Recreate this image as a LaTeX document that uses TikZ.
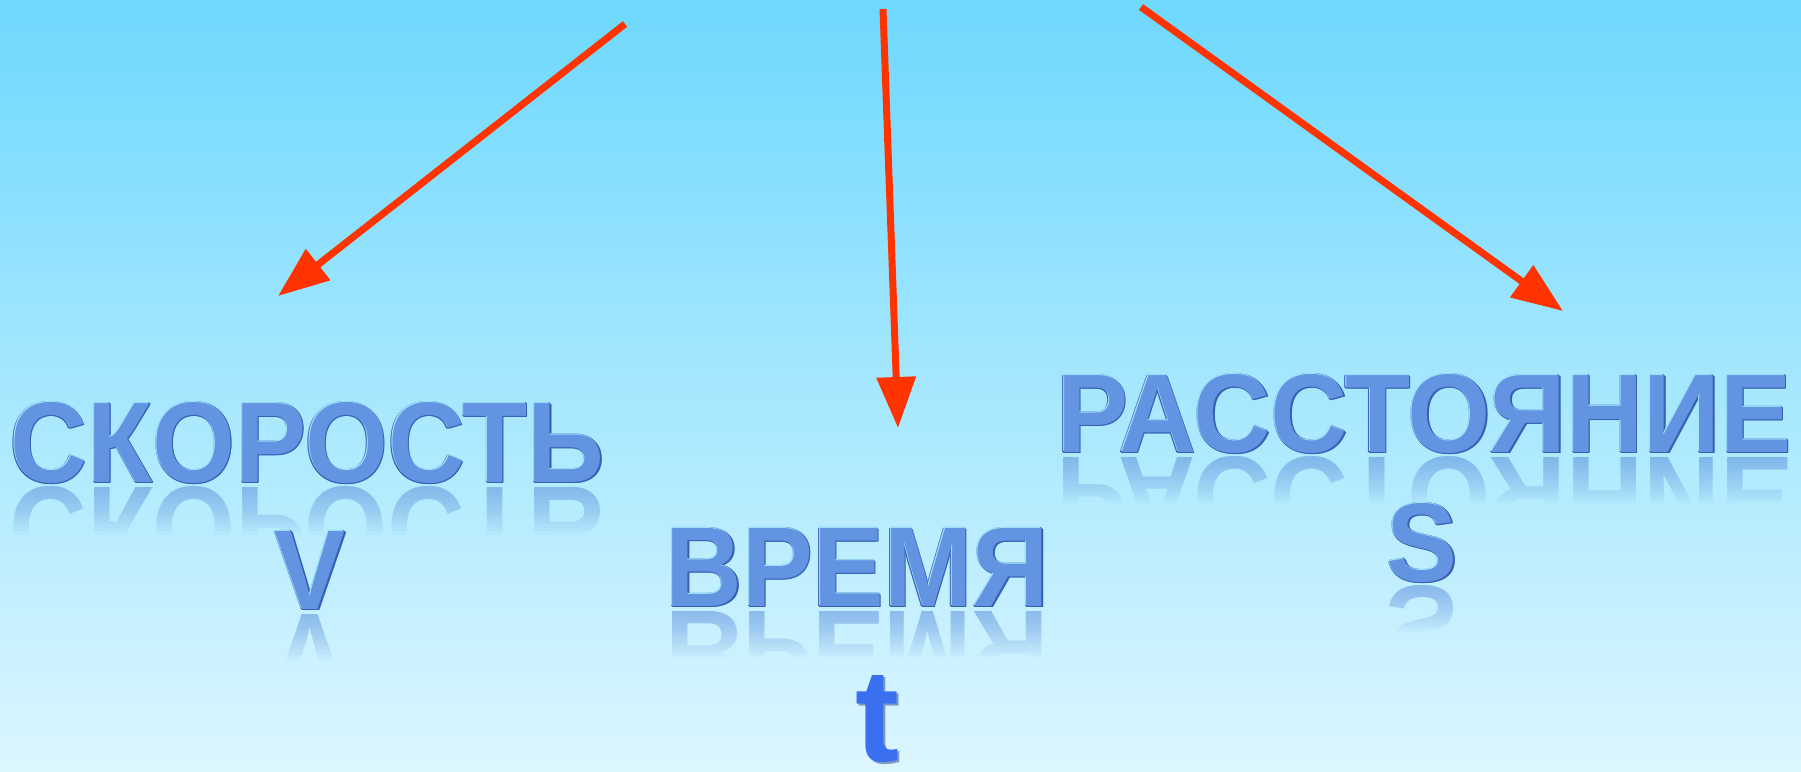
\documentclass[tikz,border=0pt]{standalone}
\usepackage{fontspec}
\setmainfont{Liberation Sans}
\usetikzlibrary{arrows.meta}
\definecolor{bgtop}{RGB}{110,216,253}
\definecolor{bgbot}{RGB}{220,246,255}
\definecolor{arr}{RGB}{255,51,0}
\definecolor{wfill}{RGB}{98,148,226}
\definecolor{wdark}{RGB}{55,95,180}
\definecolor{wlight}{RGB}{160,228,252}
\definecolor{tfill}{RGB}{58,112,240}
\definecolor{tshadow}{RGB}{70,95,150}
\tikzset{
  redarrow/.style={draw=arr, line width=7pt, -{Triangle[length=51pt,width=38pt]}},
  word/.style={inner sep=0pt, anchor=base, font=\bfseries},
}
\newcommand\wordart[6]{% name, x, baseline y, w, h, text
  \foreach \dx/\dy [count=\k] in {1/0,-1/0,0/1,0/-1,1.8/1.8} {
    \node[word, text=wdark] (#1d\k) at (#2+\dx,#3+\dy) {\resizebox{#4pt}{#5pt}{#6}};
  }
  \node[word, text=wlight] (#1l) at (#2-0.7,#3-0.7) {\resizebox{#4pt}{#5pt}{#6}};
  \node[word, text=wfill] (#1) at (#2+0.3,#3+0.3) {\resizebox{#4pt}{#5pt}{#6}};
  \foreach \i in {0,...,13} {
    \begin{scope}
      \clip (#2-#4/2-10, #3+4) rectangle (#2+#4/2+10, #3+4+\i*#5*0.043+#5*0.043);
      \node[word, text=wfill, text opacity=0.05] (#1r\i) at (#2,#3+5) {\scalebox{1}[-1]{\resizebox{#4pt}{#5pt}{#6}}};
    \end{scope}
  }
}
\begin{document}
\begin{tikzpicture}[x=1pt,y=-1pt]
  \useasboundingbox (0,0) rectangle (1801,771);
  \shade[top color=bgtop, bottom color=bgbot] (0,0) rectangle (1801,771);

  % words
  \wordart{skor}{307}{482}{594}{80}{СКОРОСТЬ}
  \wordart{v}{310}{609}{71}{78}{V}
  \wordart{vrem}{857}{606}{383}{78}{ВРЕМЯ}
  \wordart{rass}{1424}{452}{734}{78}{РАССТОЯНИЕ}
  \wordart{s}{1422}{581}{71}{78}{S}

  % t
  \node[inner sep=0pt, anchor=base, text=tshadow, text opacity=0.6, font=\bfseries] (tsh) at (879,763.5) {\resizebox{!}{86pt}{t}};
  \node[inner sep=0pt, anchor=base, text=tfill, font=\bfseries] (t) at (877,761.5) {\resizebox{!}{86pt}{t}};

  % arrows
  \coordinate (a1s) at (625,24);
  \coordinate (a1e) at (278,296);
  \coordinate (a2s) at (883,9);
  \coordinate (a2e) at (898,428);
  \coordinate (a3s) at (1141,7);
  \coordinate (a3e) at (1563,311);
  \draw[redarrow] (a1s) -- (a1e);
  \draw[redarrow] (a2s) -- (a2e);
  \draw[redarrow] (a3s) -- (a3e);
\end{tikzpicture}
\end{document}
